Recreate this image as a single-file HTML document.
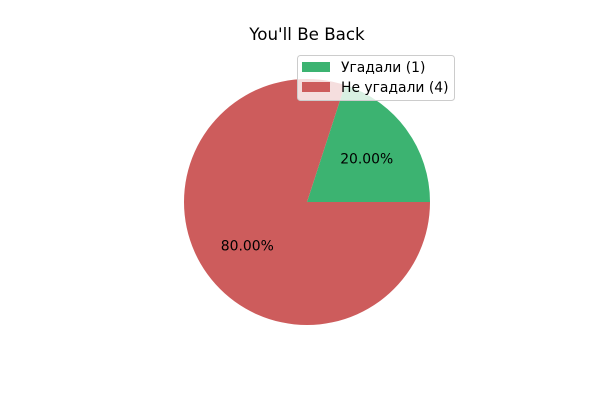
<!DOCTYPE html>
<html><head><meta charset="utf-8"><style>
body{margin:0;background:#fff;}
svg text{font-family:"DejaVu Sans","Liberation Sans",sans-serif;}
</style></head><body>
<svg width="600" height="400" viewBox="0 0 600 400">
<rect width="600" height="400" fill="#fff"/>
<text x="307" y="40" text-anchor="middle" font-size="16.7">You'll Be Back</text>
<g id="slices"></g>
<g>
<rect x="297.5" y="55.5" width="157" height="45" rx="3" fill="#fff" fill-opacity="0.8" stroke="#ccc"/>
<g id="legend-items"></g>
</g>
</svg>
<script>
const categories=["Угадали (1)","Не угадали (4)"];
const values=[1,4];
const colors=["#3CB371","#CD5C5C"];
const cx=307,cy=202,r=123;
const total=values.reduce((a,b)=>a+b,0);
const ns="http://www.w3.org/2000/svg";
const g=document.getElementById('slices');
let a0=0;
values.forEach((v,i)=>{
  const a1=a0+v/total*2*Math.PI;
  const p=document.createElementNS(ns,'path');
  const x0=cx+r*Math.cos(a0),y0=cy-r*Math.sin(a0),x1=cx+r*Math.cos(a1),y1=cy-r*Math.sin(a1);
  const large=(a1-a0)>Math.PI?1:0;
  p.setAttribute('d',`M${cx},${cy} L${x0},${y0} A${r},${r} 0 ${large} 0 ${x1},${y1} Z`);
  p.setAttribute('fill',colors[i]);
  
  
  g.appendChild(p);
  const am=(a0+a1)/2;
  const t=document.createElementNS(ns,'text');
  t.setAttribute('x',cx+0.6*r*Math.cos(am));
  t.setAttribute('y',cy-0.6*r*Math.sin(am)+5);
  t.setAttribute('text-anchor','middle');
  t.setAttribute('font-size','13.9');
  t.textContent=(v/total*100).toFixed(2)+'%';
  
  
  g.appendChild(t);
  a0=a1;
});
const lg=document.getElementById('legend-items');
categories.forEach((c,i)=>{
  const y=62+i*20;
  const rc=document.createElementNS(ns,'rect');
  rc.setAttribute('x',302);rc.setAttribute('y',y);rc.setAttribute('width',28);rc.setAttribute('height',10);
  rc.setAttribute('fill',colors[i]);
  
  
  lg.appendChild(rc);
  const t=document.createElementNS(ns,'text');
  t.setAttribute('x',341);t.setAttribute('y',y+10);t.setAttribute('font-size','13.9');
  t.textContent=c;
  
  
  lg.appendChild(t);
});
</script>
</body></html>
